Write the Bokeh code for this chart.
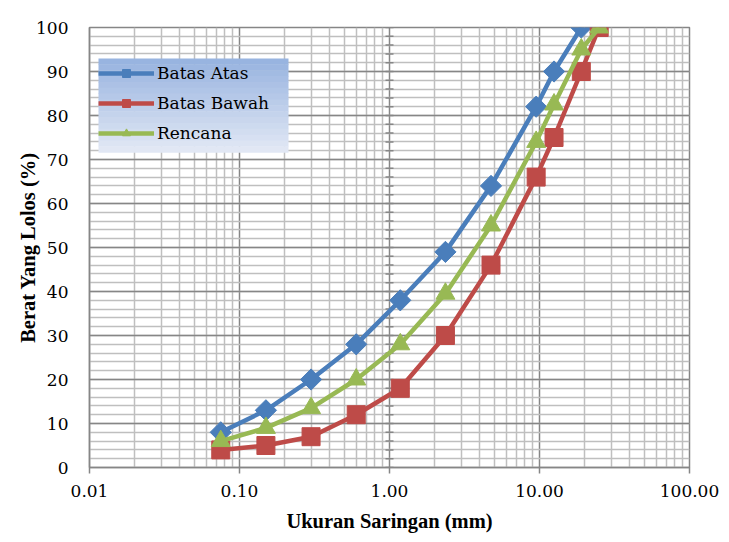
import math
from bokeh.plotting import figure
from bokeh.models import (FixedTicker, Range1d, Legend, LegendItem, PrintfTickFormatter,
                          SingleIntervalTicker)
from bokeh.embed import file_html
from bokeh.resources import INLINE

# data
sieve = [0.075, 0.15, 0.3, 0.6, 1.18, 2.36, 4.75, 9.5, 12.5, 19, 25]
batas_atas = [8, 13, 20, 28, 38, 49, 64, 82, 90, 100]
batas_bawah = [4, 5, 7, 12, 18, 30, 46, 66, 75, 90, 100]
rencana = [6, 9, 13.5, 20, 28, 39.5, 55, 74, 82.5, 95, 100]
x_ticks = [0.01, 0.1, 1, 10, 100]
x_minor = [m * d for d in [0.01, 0.1, 1, 10] for m in range(2, 10)]
y_minor_marks = list(range(0, 101, 2))

FONT_BOLD = "Liberation Serif"
FONT = "DejaVu Serif"
BLUE = "#4A7EBB"
RED = "#BE4B48"
GREEN = "#98B954"

FW, FH = 600, 441  # frame size in px
p = figure(width=721, height=534, x_axis_type="log", output_backend="svg",
           toolbar_location=None, x_range=Range1d(0.01, 100), y_range=Range1d(0, 100),
           min_border_left=89, min_border_right=32, min_border_top=27, min_border_bottom=66)

p.outline_line_color = "#868686"
p.outline_line_width = 1.5

xt = FixedTicker(ticks=x_ticks, minor_ticks=x_minor)
p.xaxis.ticker = xt
p.xgrid.ticker = xt
p.xaxis.formatter = PrintfTickFormatter(format="%.2f")
yt = SingleIntervalTicker(interval=10, num_minor_ticks=5)
p.yaxis.ticker = yt
p.ygrid.ticker = yt

for g in (p.xgrid, p.ygrid):
    g.grid_line_color = "#868686"
    g.grid_line_width = 1.5
    g.minor_grid_line_color = "#BFBFBF"
    g.minor_grid_line_width = 1.5

for ax in (p.xaxis, p.yaxis):
    ax.axis_line_color = "#868686"
    ax.axis_line_width = 1.5
    ax.major_tick_line_color = "#868686"
    ax.major_tick_line_width = 1.5
    ax.minor_tick_line_color = None
    ax.major_label_text_font = FONT
    ax.major_label_text_font_size = "17px"
    ax.major_label_text_color = "black"
    ax.axis_label_text_font = FONT_BOLD
    ax.axis_label_text_font_size = "20.5px"
    ax.axis_label_text_font_style = "bold"
    ax.axis_label_text_color = "black"

p.xaxis.major_tick_out = 6
p.xaxis.major_tick_in = 0
p.xaxis.major_label_standoff = 11
p.xaxis.axis_label = "Ukuran Saringan (mm)"
p.xaxis.axis_label_standoff = 10
p.yaxis.major_tick_out = 0
p.yaxis.major_tick_in = 0
p.yaxis.major_label_standoff = 17
p.yaxis.axis_label = "Berat Yang Lolos (%)"
p.yaxis.axis_label_standoff = -6

# legend background gradient (decorative), placed in the upper-left of the frame
lg_left, lg_right, lg_top, lg_bottom = 9, 199, 31, 125  # px offsets within frame
n_bands = 16
top_rgb = (0x96, 0xB2, 0xDF)
bot_rgb = (0xE3, 0xE9, 0xF5)
def px_to_x(px):
    return 10 ** (-2 + 4 * px / FW)
def px_to_y(py):
    return 100 * (FH - py) / FH
b_left, b_right, b_top, b_bot, b_col = [], [], [], [], []
for i in range(n_bands):
    t0 = lg_top + (lg_bottom - lg_top) * i / n_bands
    t1 = lg_top + (lg_bottom - lg_top) * (i + 1) / n_bands
    f = (i + 0.5) / n_bands
    c = tuple(round(a + (b - a) * f) for a, b in zip(top_rgb, bot_rgb))
    b_left.append(px_to_x(lg_left)); b_right.append(px_to_x(lg_right))
    b_top.append(px_to_y(t0)); b_bot.append(px_to_y(t1 + 0.5))
    b_col.append("#%02x%02x%02x" % c)
p.quad(left=b_left, right=b_right, top=b_top, bottom=b_bot, fill_color=b_col,
       line_color=None)

# vertical axis crossing at 1.00 with tick marks
p.scatter([1] * len(y_minor_marks), y_minor_marks, marker="dash", size=8,
          line_color="#868686", line_width=1.5)

r1 = p.line(sieve[:len(batas_atas)], batas_atas, line_color=BLUE, line_width=4.5)
m1 = p.scatter(sieve[:len(batas_atas)], batas_atas, marker="square", angle=math.pi / 4,
               size=15, fill_color=BLUE, line_color=BLUE)
r2 = p.line(sieve, batas_bawah, line_color=RED, line_width=4.5)
m2 = p.scatter(sieve, batas_bawah, marker="square", size=18, fill_color=RED, line_color=RED)
r3 = p.line(sieve, rencana, line_color=GREEN, line_width=4.5)
m3 = p.scatter(sieve, rencana, marker="triangle", size=19, fill_color=GREEN, line_color=GREEN)

legend = Legend(items=[LegendItem(label="Batas Atas", renderers=[r1, m1]),
                       LegendItem(label="Batas Bawah", renderers=[r2, m2]),
                       LegendItem(label="Rencana", renderers=[r3, m3])],
                location=(lg_left, FH - lg_bottom + 8))
legend.background_fill_alpha = 0.0
legend.border_line_color = None
legend.label_text_font = FONT
legend.label_text_font_size = "17px"
legend.label_text_color = "black"
legend.label_height = 20
legend.glyph_width = 56
legend.glyph_height = 20
legend.label_standoff = 3
legend.spacing = 10
legend.padding = 7
legend.margin = 0
p.add_layout(legend, "center")

open("out.html", "w").write(file_html(p, INLINE))
